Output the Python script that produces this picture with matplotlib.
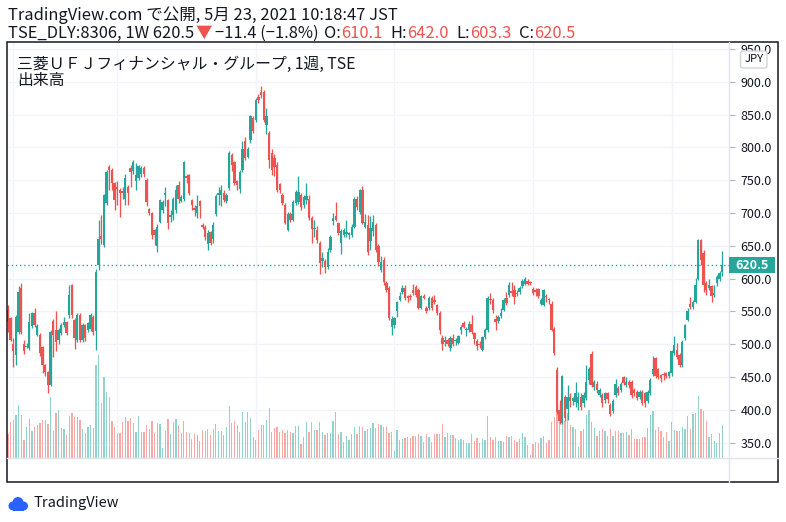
import numpy as np
import matplotlib
matplotlib.use('Agg')
import matplotlib.pyplot as plt
from matplotlib.patches import Rectangle, FancyBboxPatch, Circle

FAM = ['Noto Sans CJK JP', 'DejaVu Sans']
plt.rcParams['font.family'] = FAM

# ---------------- data (weekly bars, TSE 8306) ----------------
first_bar = -2   # bar index of first candle (bar 0 = first bar of April 2016)
opens = [552, 540, 500, 484, 519, 585, 500, 496, 494, 528, 547, 514,
         514, 496, 468, 458, 438, 535, 522, 506, 517, 529,
         534, 545, 590, 537, 507, 545, 507, 529, 521, 524,
         542, 520, 621, 665, 651, 715, 770, 766, 745, 740,
         735, 734, 722, 740, 768, 764, 749, 753, 760, 768,
         751, 706, 700, 674, 649, 687, 704, 728, 720, 694,
         697, 705, 743, 719, 722, 757, 758, 720, 708, 700,
         719, 682, 679, 652, 671, 660, 699, 727, 727, 731,
         719, 738, 788, 777, 749, 736, 766, 809, 785, 811,
         844, 842, 877, 885, 885, 834, 822, 791, 783, 773,
         744, 727, 712, 674, 699, 690, 715, 717, 727, 712,
         720, 722, 692, 675, 674, 654, 627, 627, 618, 644,
         688, 696, 684, 654, 666, 668, 667, 667, 679, 722,
         702, 735, 678, 682, 658, 673, 681, 650, 613, 629,
         593, 585, 526, 530, 551, 568, 579, 585, 573, 573,
         583, 587, 583, 556, 573, 556, 555, 570, 567, 560,
         547, 509, 504, 506, 494, 510, 505, 502, 521, 532,
         521, 522, 531, 517, 505, 501, 491, 511, 521, 569,
         567, 538, 536, 543, 552, 571, 575, 581, 583, 578,
         580, 588, 592, 597, 594, 584, 583, 584, 562, 560,
         574, 568, 562, 523, 461, 400, 380, 420, 402, 420,
         413, 412, 410, 420, 410, 418, 445, 485, 435, 440,
         423, 422, 415, 426, 407, 399, 422, 433, 430, 450,
         438, 443, 443, 430, 428, 420, 428, 425, 413, 425,
         455, 479, 462, 453, 455, 456, 452, 456, 486, 491,
         484, 468, 509, 537, 562, 557, 565, 600, 659, 639,
         593, 585, 588, 575, 593, 600, 610.1]
highs = [560, 542, 509, 545, 588, 593, 507, 502, 547, 549, 555, 531,
         517, 498, 470, 460, 522, 538, 550, 525, 532, 542,
         536, 590, 592, 540, 548, 547, 532, 531, 534, 547,
         545, 614, 690, 697, 729, 765, 773, 768, 747, 748,
         738, 740, 759, 742, 773, 780, 776, 773, 772, 771,
         753, 708, 702, 676, 683, 722, 720, 740, 722, 705,
         725, 743, 748, 727, 779, 760, 760, 722, 712, 727,
         720, 684, 681, 674, 673, 687, 729, 740, 742, 735,
         730, 795, 791, 779, 751, 765, 810, 815, 800, 850,
         848, 875, 882, 894, 888, 860, 825, 797, 790, 778,
         746, 730, 715, 702, 702, 720, 735, 756, 730, 727,
         745, 727, 695, 689, 680, 657, 640, 630, 646, 667,
         700, 717, 687, 675, 677, 690, 671, 683, 725, 726,
         736, 741, 698, 697, 695, 697, 685, 652, 634, 633,
         596, 589, 543, 542, 566, 579, 590, 590, 575, 576,
         592, 590, 585, 575, 576, 558, 573, 573, 575, 562,
         550, 514, 513, 510, 512, 516, 509, 514, 529, 535,
         527, 535, 545, 519, 508, 505, 513, 525, 574, 578,
         570, 545, 545, 555, 570, 580, 595, 595, 590, 582,
         588, 600, 602, 599, 596, 587, 585, 586, 570, 584,
         576, 571, 566, 526, 466, 415, 453, 423, 438, 425,
         420, 443, 428, 425, 428, 468, 466, 490, 446, 444,
         433, 425, 428, 428, 410, 416, 447, 436, 443, 452,
         450, 446, 446, 433, 430, 430, 430, 428, 430, 448,
         482, 481, 464, 455, 458, 458, 460, 491, 512, 502,
         486, 506, 531, 555, 572, 567, 601, 661, 661, 643,
         596, 600, 590, 590, 606, 612, 642.0]
lows = [519, 505, 466, 469, 515, 515, 485, 494, 492, 525, 527, 512,
        482, 456, 452, 425, 436, 480, 490, 500, 514, 527,
        514, 540, 540, 493, 503, 503, 503, 505, 518, 520,
        514, 491, 613, 653, 648, 712, 735, 735, 705, 712,
        694, 722, 712, 712, 740, 760, 735, 750, 755, 755,
        710, 697, 660, 651, 641, 684, 700, 710, 676, 687,
        690, 700, 715, 716, 718, 745, 728, 705, 695, 692,
        692, 676, 659, 644, 651, 654, 695, 712, 710, 717,
        715, 735, 764, 742, 735, 730, 763, 780, 783, 806,
        822, 838, 868, 875, 838, 820, 768, 758, 756, 732,
        730, 712, 683, 673, 686, 688, 712, 714, 705, 708,
        714, 690, 654, 664, 655, 607, 618, 609, 615, 641,
        682, 688, 666, 638, 664, 664, 661, 664, 677, 705,
        698, 683, 677, 636, 644, 665, 640, 619, 610, 590,
        580, 537, 514, 525, 542, 566, 577, 568, 565, 568,
        575, 572, 554, 554, 569, 548, 552, 552, 562, 545,
        515, 492, 497, 497, 490, 497, 499, 500, 516, 525,
        513, 519, 516, 500, 491, 494, 489, 508, 519, 562,
        548, 522, 532, 540, 550, 560, 572, 573, 562, 573,
        577, 586, 590, 590, 590, 575, 573, 570, 560, 558,
        565, 562, 520, 484, 393, 378, 378, 383, 385, 405,
        408, 405, 400, 400, 405, 415, 440, 435, 430, 425,
        420, 405, 410, 410, 390, 396, 420, 422, 428, 438,
        435, 434, 418, 421, 415, 417, 407, 405, 410, 423,
        452, 449, 447, 443, 446, 448, 448, 452, 484, 478,
        466, 466, 507, 535, 554, 554, 563, 598, 620, 580,
        575, 582, 565, 572, 588, 597, 603.3]
closes = [534, 507, 489, 542, 580, 519, 490, 498, 534, 547, 529, 528,
          487, 468, 458, 438, 519, 514, 504, 521, 529, 534,
          517, 575, 545, 509, 545, 507, 529, 509, 532, 545,
          519, 610, 661, 660, 727, 763, 766, 745, 720, 736,
          730, 731, 753, 730, 763, 778, 758, 771, 768, 759,
          716, 700, 667, 666, 678, 720, 717, 731, 684, 697,
          722, 735, 721, 725, 777, 754, 730, 712, 704, 710,
          710, 679, 664, 670, 654, 682, 726, 731, 735, 720,
          727, 791, 773, 745, 743, 763, 798, 783, 798, 847,
          825, 872, 872, 880, 842, 847, 780, 765, 770, 735,
          735, 715, 685, 699, 690, 717, 732, 732, 709, 724,
          726, 692, 675, 677, 659, 624, 632, 618, 641, 664,
          693, 690, 669, 672, 674, 671, 669, 679, 722, 709,
          735, 685, 687, 640, 677, 687, 644, 626, 626, 595,
          582, 540, 538, 540, 565, 574, 585, 570, 570, 572,
          578, 575, 556, 573, 571, 550, 571, 555, 565, 548,
          522, 501, 506, 501, 509, 501, 507, 512, 527, 527,
          524, 531, 519, 508, 497, 499, 511, 521, 570, 567,
          552, 534, 541, 548, 567, 563, 590, 578, 572, 577,
          585, 597, 599, 592, 593, 578, 580, 573, 568, 582,
          572, 567, 522, 487, 397, 383, 451, 387, 420, 413,
          418, 425, 420, 404, 423, 443, 463, 438, 443, 430,
          430, 410, 425, 416, 393, 414, 440, 425, 440, 441,
          443, 438, 423, 425, 418, 428, 410, 410, 428, 446,
          463, 451, 450, 448, 453, 451, 457, 489, 499, 481,
          468, 504, 529, 550, 557, 565, 590, 659, 628, 590,
          583, 590, 573, 578, 603, 608, 620.5]
volumes = [24, 36, 38, 43, 53, 43, 18, 31, 39, 27, 31, 33,
           35, 38, 38, 34, 61, 27, 45, 48, 30, 29,
           23, 42, 45, 41, 41, 38, 29, 25, 31, 33,
           30, 93, 103, 55, 81, 66, 61, 37, 31, 25,
           25, 36, 41, 37, 40, 35, 26, 42, 26, 26,
           33, 29, 37, 25, 35, 34, 10, 27, 39, 24,
           36, 39, 33, 25, 37, 26, 25, 19, 24, 23,
           17, 28, 27, 29, 23, 29, 34, 27, 27, 23,
           31, 52, 35, 37, 33, 26, 46, 36, 46, 40,
           21, 18, 28, 33, 33, 38, 50, 26, 30, 31,
           26, 28, 25, 28, 26, 25, 32, 32, 14, 21,
           36, 26, 36, 28, 28, 36, 26, 23, 25, 25,
           37, 46, 24, 26, 16, 22, 18, 24, 31, 24,
           32, 31, 27, 29, 30, 35, 30, 34, 33, 31,
           31, 25, 26, 7, 28, 18, 19, 20, 21, 20,
           22, 22, 24, 22, 16, 24, 21, 16, 24, 24,
           24, 34, 21, 25, 23, 23, 20, 18, 19, 18,
           15, 15, 24, 17, 20, 15, 19, 18, 42, 21,
           18, 21, 17, 17, 16, 22, 21, 22, 18, 16,
           19, 25, 21, 13, 3, 14, 16, 15, 20, 22,
           15, 18, 36, 41, 57, 45, 55, 37, 45, 33,
           31, 29, 11, 27, 29, 43, 48, 36, 30, 22,
           27, 29, 27, 22, 29, 22, 27, 27, 25, 25,
           26, 23, 29, 19, 19, 19, 21, 21, 30, 43,
           47, 28, 31, 27, 21, 26, 17, 36, 28, 27,
           27, 31, 29, 42, 29, 44, 45, 62, 49, 47,
           37, 21, 24, 17, 15, 25, 33]   # in units of 10M shares
xtick_bars = [0, 39, 91, 143, 195, 247]
xtick_labels = ['4月', '2017', '2018', '2019', '2020', '2021']
price_ticks = list(range(350, 951, 50))
last_price = 620.5

header1 = 'TradingView.com で公開, 5月 23, 2021 10:18:47 JST'
header2 = [('TSE_DLY:8306, 1W 620.5', 'k', 1), ('▼', 'r', 3), ('−11.4 (−1.8%)', 'k', 6),
           ('O:', 'k', 0), ('610.1', 'r', 8), ('H:', 'k', 0), ('642.0', 'r', 8),
           ('L:', 'k', 0), ('603.3', 'r', 8), ('C:', 'k', 0), ('620.5', 'r', 0)]
title = '三菱ＵＦＪフィナンシャル・グループ, 1週, TSE'
subtitle = '出来高'

# ---------------- styling ----------------
TXT = '#131722'
RED = '#ef5350'
TEAL = '#26a69a'
VTEAL = '#92d2cc'
VRED = '#f7a9a7'
GRID = '#f0f3fa'
SEP = '#e0e3eb'

W, H = 786, 522
fig = plt.figure(figsize=(W / 100, H / 100), dpi=100)
fig.patch.set_facecolor('white')

def fx(x):
    return x / W

def fy(y):
    return 1 - y / H

L, R, T, B = 6.7, 729.3, 41.7, 458.0
SP = 2.665           # px per bar
X0 = 13.3            # px of bar 0
PY900, PPX = 81.7, 0.6564   # px of price 900, px per yen

xmin = (L - X0) / SP
xmax = (R - X0) / SP
ymin = 900 - (B - PY900) / PPX
ymax = 900 + (PY900 - T) / PPX

axv = fig.add_axes([fx(L), fy(B), fx(R) - fx(L), fy(T) - fy(B)])
ax = axv.twinx()
axv.set_xlim(xmin, xmax)
ax.set_ylim(ymin, ymax)
axv.set_ylim(0, B - T)       # 1 volume unit = 1 px
ax.patch.set_visible(False)

for a in (ax, axv):
    for s in a.spines.values():
        s.set_visible(False)

# grid (drawn in the volume axes so it stays underneath)
for p in price_ticks:
    axv.plot([xmin, xmax], [p, p], color=GRID, lw=1, transform=ax.transData, zorder=0)
for xb in xtick_bars:
    axv.axvline(xb, color=GRID, lw=1, zorder=0)

idx = np.arange(first_bar, first_bar + len(opens))
o = np.array(opens, float)
h = np.array(highs, float)
l = np.array(lows, float)
c = np.array(closes, float)
up = c >= o
ccol = np.where(up, TEAL, RED)
vcol = np.where(up, VTEAL, VRED)

axv.bar(idx, volumes, width=0.48, color=vcol, linewidth=0, zorder=1)

ax.vlines(idx, l, h, colors=ccol, linewidth=0.95, zorder=3)
ax.bar(idx, np.maximum(np.abs(c - o), 1.2), bottom=np.minimum(o, c), width=0.9,
       color=ccol, linewidth=0, zorder=4)

ax.axhline(last_price, color=TEAL, lw=1, linestyle=(0, (1, 2)), zorder=2)

# y axis (right)
ax.yaxis.tick_right()
ax.set_yticks(price_ticks)
ax.set_yticklabels([f'{p:.1f}' for p in price_ticks])
ax.tick_params(axis='y', length=4, width=0.8, color='#b2b5be', labelsize=9,
               labelcolor=TXT, pad=4)
axv.set_yticks([])
axv.set_xticks(xtick_bars)
axv.set_xticklabels(xtick_labels)
axv.tick_params(axis='x', length=0, labelsize=9, labelcolor=TXT, pad=4.5)
ax.set_xticks([])

# separators and frame
fig.add_artist(plt.Line2D([fx(R), fx(R)], [fy(T), fy(482)], color=SEP, lw=1))
fig.add_artist(plt.Line2D([fx(L), fx(777.7)], [fy(B), fy(B)], color=SEP, lw=1))
fig.add_artist(Rectangle((fx(L), fy(482)), fx(777.7) - fx(L), fy(T) - fy(482),
                         transform=fig.transFigure, fill=False, edgecolor=TXT, lw=1.1))

# last price tag
fig.canvas.draw()
ydisp = ax.transData.transform((0, last_price))[1]
ypx = H - ydisp
fig.add_artist(Rectangle((fx(R), fy(ypx + 8)), fx(775) - fx(R), 16 / H,
                         transform=fig.transFigure, facecolor=TEAL, edgecolor='none', zorder=10))
fig.text(fx(752.5), fy(ypx), f'{last_price:.1f}', color='white', fontsize=9,
         fontweight='bold', ha='center', va='center', zorder=11)

# JPY box
fig.add_artist(FancyBboxPatch((fx(740.5), fy(68)), fx(767) - fx(740.5), 17 / H,
                              boxstyle='round,pad=0,rounding_size=0.004',
                              transform=fig.transFigure, facecolor='white',
                              edgecolor='#d1d4dc', lw=1, zorder=10))
fig.text(fx(753.8), fy(59.5), 'JPY', color=TXT, fontsize=8.2, ha='center', va='center', zorder=11)

# headers
fig.text(fx(8), fy(15), header1, color=TXT, fontsize=11.9, ha='left', va='center')
r = fig.canvas.get_renderer()
x = 8
for s, col, gap in header2:
    t = fig.text(fx(x), fy(33), s, color=(RED if col == 'r' else TXT), fontsize=11.9,
                 ha='left', va='center')
    x = t.get_window_extent(renderer=r).x1 + gap

fig.text(fx(17), fy(64), title, color=TXT, fontsize=11.4, ha='left', va='center')
fig.text(fx(17), fy(80), subtitle, color=TXT, fontsize=11.4, ha='left', va='center')

# bottom logo
lax = fig.add_axes([fx(7), fy(512), fx(29) - fx(7), 17 / H])
lax.set_xlim(0, 22)
lax.set_ylim(0, 17)
lax.set_aspect('equal')
lax.axis('off')
for (cx, cy, rr) in [(6, 6, 4.5), (11, 9.5, 5.5), (16.5, 6, 4.5)]:
    lax.add_patch(Circle((cx, cy), rr, color='#2962ff', lw=0))
lax.add_patch(Rectangle((6, 1.5), 10.5, 5, color='#2962ff', lw=0))
fig.text(fx(33), fy(503), 'TradingView', color=TXT, fontsize=10.5, ha='left', va='center')

fig.savefig('out.png', dpi=100)
